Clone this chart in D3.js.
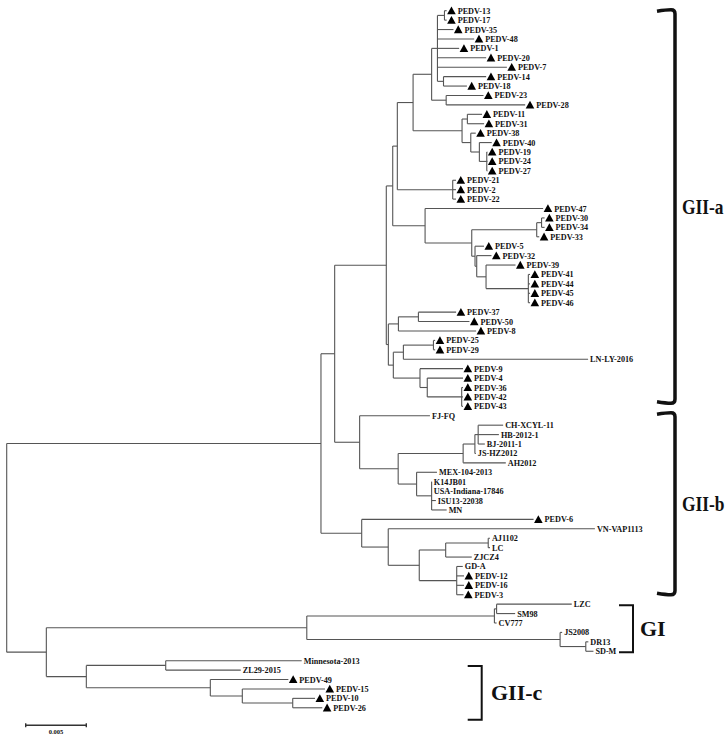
<!DOCTYPE html>
<html><head><meta charset="utf-8">
<script src="https://cdn.jsdelivr.net/npm/d3@7"></script>
<style>body{margin:0;background:#fff}svg{display:block}</style>
</head><body>
<script>
// Tree edges: [node, parent, branch length (substitutions/site)], children listed top to bottom
const backboneEdges = [
  ["root", null, 0],
  ["GII", "root", 0.02593],
  ["A", "GII", 0.00113]
];
const giiaEdges = [
  ["GIIa","A",0.00426],
  ["a1","GIIa",0.00053],
  ["a11","a1",0.00038],
  ["a111","a11",0.0013],
  ["top","a111",0.00153],
  ["T","top",0.00048],
  ["T1","T",0.00058],
  ["PEDV-13","T1",0.00018],
  ["PEDV-17","T1",0.00018],
  ["PEDV-35","T",0.00132],
  ["PEDV-48","T",0.00303],
  ["PEDV-1","T",0.00179],
  ["PEDV-20","T",0.00402],
  ["PEDV-7","T",0.00573],
  ["T2","T",0.0005],
  ["PEDV-14","T2",0.00352],
  ["PEDV-18","T2",0.00193],
  ["T3","top",0.0012],
  ["PEDV-23","T3",0.00308],
  ["PEDV-28","T3",0.00652],
  ["mid","a111",0.00404],
  ["M1","mid",0.00044],
  ["PEDV-11","M1",0.00121],
  ["PEDV-31","M1",0.00138],
  ["P","mid",0.00072],
  ["PEDV-38","P",0.00041],
  ["Q","P",0.00071],
  ["PEDV-40","Q",0.00102],
  ["R","Q",0.00061],
  ["PEDV-19","R",0.00005],
  ["PEDV-24","R",0.00005],
  ["PEDV-27","R",0.00005],
  ["N212","a11",0.00457],
  ["PEDV-21","N212",0.00027],
  ["PEDV-2","N212",0.00027],
  ["PEDV-22","N212",0.00027],
  ["a12","a1",0.00267],
  ["PEDV-47","a12",0.00974],
  ["S","a12",0.00385],
  ["S1","S",0.00536],
  ["S2","S1",0.0004],
  ["PEDV-30","S2",0.00025],
  ["PEDV-34","S2",0.00025],
  ["PEDV-33","S1",0.00021],
  ["U","S",0.00027],
  ["PEDV-5","U",0.00074],
  ["V","U",0.00014],
  ["PEDV-32","V",0.00122],
  ["V1","V",0.00077],
  ["PEDV-39","V1",0.00243],
  ["V2","V1",0.00349],
  ["PEDV-41","V2",0.00014],
  ["PEDV-44","V2",0.00014],
  ["PEDV-45","V2",0.00014],
  ["PEDV-46","V2",0.00014],
  ["a2","GIIa",0.00017],
  ["E1","a2",0.00083],
  ["E2","E1",0.00165],
  ["PEDV-37","E2",0.00311],
  ["PEDV-50","E2",0.00421],
  ["PEDV-8","E1",0.00641],
  ["F","a2",0.00041],
  ["F1","F",0.00083],
  ["F2","F1",0.00248],
  ["PEDV-25","F2",0.00014],
  ["PEDV-29","F2",0.00014],
  ["LN-LY-2016","F1",0.01524],
  ["G","F",0.0022],
  ["PEDV-9","G",0.00355],
  ["G1","G",0.0006],
  ["PEDV-4","G1",0.00295],
  ["G2","G1",0.00284],
  ["PEDV-36","G2",0.00011],
  ["PEDV-42","G2",0.00011],
  ["PEDV-43","G2",0.00011]
];
const giibEdges = [
  ["b1","A",0.00206],
  ["FJ-FQ","b1",0.0058],
  ["X","b1",0.00318],
  ["Y","X",0.00536],
  ["Y1","Y",0.00097],
  ["Y2","Y1",0.00027],
  ["CH-XCYL-11","Y2",0.00206],
  ["HB-2012-1","Y2",0.00171],
  ["BJ-2011-1","Y2",0.00055],
  ["JS-HZ2012","Y1",0.00008],
  ["AH2012","Y",0.00352],
  ["Z","X",0.00152],
  ["MEX-104-2013","Z",0.00168],
  ["Z1","Z",0.00124],
  ["K14JB01","Z1",0.00002],
  ["USA-Indiana-17846","Z1",0.00002],
  ["ISU13-22038","Z1",0.00035],
  ["MN","Z1",0.00124],
  ["B","GII",0.00336],
  ["PEDV-6","B",0.01418],
  ["B1","B",0.00219],
  ["VN-VAP1113","B1",0.01705],
  ["W","B1",0.00256],
  ["W1","W",0.00218],
  ["AJLC","W1",0.00351],
  ["AJ1102","AJLC",0.00014],
  ["LC","AJLC",0.00014],
  ["ZJCZ4","W1",0.00215],
  ["GD","W",0.00309],
  ["GD-A","GD",0.0005],
  ["PEDV-12","GD",0.0006],
  ["PEDV-16","GD",0.0006],
  ["PEDV-3","GD",0.00056]
];
const giEdges = [
  ["Out","root",0.00327],
  ["GI","Out",0.02149],
  ["GIa","GI",0.01548],
  ["GIa2","GIa",0.00018],
  ["LZC","GIa2",0.0062],
  ["SM98","GIa2",0.00153],
  ["CV777","GIa",0.00018],
  ["GIb","GI",0.0209],
  ["JS2008","GIb",0.00017],
  ["DRSD","GIb",0.00212],
  ["DR13","DRSD",0.00021],
  ["SD-M","DRSD",0.00063]
];
const giicEdges = [
  ["GIIc","Out",0.0033],
  ["MZ","GIIc",0.00655],
  ["Minnesota-2013","MZ",0.01122],
  ["ZL29-2015","MZ",0.00619],
  ["C1","GIIc",0.01023],
  ["PEDV-49","C1",0.00644],
  ["C2","C1",0.00264],
  ["PEDV-15","C2",0.00682],
  ["C3","C2",0.00416],
  ["PEDV-10","C3",0.00184],
  ["PEDV-26","C3",0.00244]
];
// Clade brackets: [label, first leaf, last leaf]
const clades = [
  ["GII-a", "PEDV-13", "PEDV-43"],
  ["GII-b", "FJ-FQ", "PEDV-3"],
  ["GI", "LZC", "SD-M"],
  ["GII-c", "ZL29-2015", "PEDV-26"]
];
const scaleBarValue = 0.005;

const W = 726, H = 741;
const svg = d3.select("body").append("svg").attr("width", W).attr("height", H);
const edges = backboneEdges.concat(giiaEdges, giibEdges, giEdges, giicEdges);
const root = d3.stratify().id(d => d[0]).parentId(d => d[1])(edges);
root.eachBefore(n => { n.dist = n.parent ? n.parent.dist + n.data[2] : 0; });
const leaves = root.leaves();
const yScale = d3.scalePoint().domain(leaves.map(d => d.id)).range([10.7, 10.7 + (leaves.length - 1) * 9.42]);
const xScale = d3.scaleLinear().domain([0, scaleBarValue]).range([6.7, 6.7 + 60.6]);
root.eachAfter(n => {
  n.px = xScale(n.dist);
  if (n.children) n.py = (n.children[0].py + n.children[n.children.length - 1].py) / 2;
  else n.py = yScale(n.id);
});

const lineColor = "#555";
const g = svg.append("g").attr("fill", "none").attr("stroke", lineColor).attr("stroke-width", 1.1);
root.descendants().forEach(n => {
  if (n.parent) g.append("line").attr("x1", n.parent.px).attr("x2", n.px).attr("y1", n.py).attr("y2", n.py);
  if (n.children) {
    g.append("line").attr("x1", n.px).attr("x2", n.px)
      .attr("y1", n.children[0].py).attr("y2", n.children[n.children.length - 1].py);
  }
});

const font = "'Times New Roman','Liberation Serif',serif";
leaves.forEach(n => {
  const marked = /^PEDV-\d+$/.test(n.id);
  let tx = n.px + 2;
  if (marked) {
    const x0 = n.px + 0.5, y0 = n.py;
    svg.append("path").attr("d", `M${x0},${y0 + 3.6}L${x0 + 4.3},${y0 - 4.2}L${x0 + 8.6},${y0 + 3.6}Z`).attr("fill", "#000");
    tx = n.px + 11;
  }
  svg.append("text").attr("x", tx).attr("y", n.py + 3)
    .attr("font-family", font).attr("font-weight", "bold").attr("font-size", 8.2)
    .attr("fill", "#111").text(n.id);
});

// Brackets
const bracketStyle = {
  "GII-a": {x: 675, hook: 18, t: -1, b: -3, w: 3.5, fs: 17.4, sy: 1.25, lx: 682},
  "GII-b": {x: 675, hook: 18, t: -3, b: 0, w: 3.5, fs: 17.4, sy: 1.25, lx: 682},
  "GI": {x: 633, hook: 14, t: 1, b: 1, w: 2, fs: 22, sy: 1, lx: 640},
  "GII-c": {x: 481.7, hook: 14, t: -4, b: 12, w: 2, fs: 22, sy: 1, lx: 491}
};
clades.forEach(([label, a, b]) => {
  const s = bracketStyle[label];
  const y1 = yScale(a) + s.t, y2 = yScale(b) + s.b;
  const r = s.w > 3 ? 4 : 0;
  svg.append("path")
    .attr("d", `M${s.x - s.hook},${y1 + (r ? 1.5 : 0)}Q${s.x - s.hook / 2},${y1} ${s.x - r},${y1}Q${s.x},${y1} ${s.x},${y1 + r}L${s.x},${y2 - r}Q${s.x},${y2} ${s.x - r},${y2}Q${s.x - s.hook / 2},${y2} ${s.x - s.hook},${y2 - (r ? 1.5 : 0)}`)
    .attr("fill", "none").attr("stroke", "#111").attr("stroke-width", s.w);
  svg.append("text")
    .attr("transform", `translate(${s.lx},${(y1 + y2) / 2 + 7.5}) scale(1,${s.sy})`)
    .attr("font-family", font).attr("font-weight", "bold").attr("font-size", s.fs)
    .attr("fill", "#111").text(label);
});

// Scale bar
const sbx = 25.7, sby = 725.3;
const sbw = xScale(scaleBarValue) - xScale(0);
const sb = svg.append("g").attr("stroke", "#333").attr("stroke-width", 1.4);
sb.append("line").attr("x1", sbx).attr("x2", sbx + sbw).attr("y1", sby).attr("y2", sby);
sb.append("line").attr("x1", sbx).attr("x2", sbx).attr("y1", sby - 2).attr("y2", sby + 2);
sb.append("line").attr("x1", sbx + sbw).attr("x2", sbx + sbw).attr("y1", sby - 2).attr("y2", sby + 2);
svg.append("text").attr("x", sbx + sbw / 2).attr("y", sby + 8.5).attr("text-anchor", "middle")
  .attr("font-family", font).attr("font-weight", "bold").attr("font-size", 6.5).attr("fill", "#111")
  .text(String(scaleBarValue));
</script>
</body></html>
